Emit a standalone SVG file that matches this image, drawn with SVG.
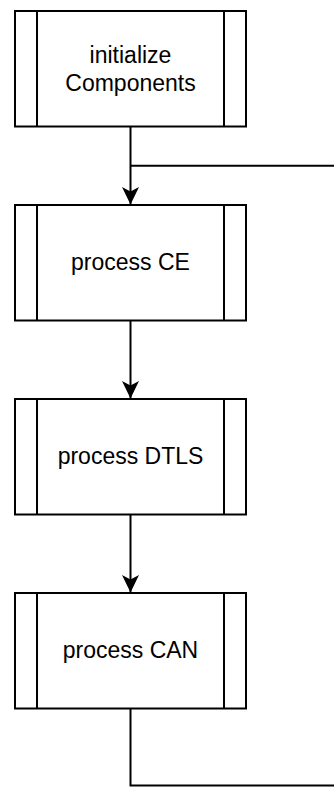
<svg xmlns="http://www.w3.org/2000/svg" width="334" height="787" viewBox="0 0 334 787">
  <style>
    .box { fill: #ffffff; stroke: #000000; stroke-width: 2; }
    .bar { stroke: #000000; stroke-width: 2; fill: none; }
    .label { font-family: "Liberation Sans", Arial, sans-serif; font-size: 23px; fill: #000000; text-anchor: middle; }
    .wire { fill: none; stroke: #000000; stroke-width: 2; }
  </style>
  <defs>
    <marker id="arrow" markerUnits="userSpaceOnUse" markerWidth="20" markerHeight="20" refX="17.5" refY="8.5" orient="auto">
      <path d="M17.5,8.5 L0,0 L4.5,8.5 L0,17 Z" fill="#000000"/>
    </marker>
  </defs>

  <rect width="334" height="787" fill="#ffffff"/>

  <!-- connectors -->
  <g id="connectors">
    <path class="wire" d="M130.5,126.5 V204.5" marker-end="url(#arrow)"/>
    <path class="wire" d="M130.5,165.7 H334"/>
    <path class="wire" d="M130.5,320.5 V398.5" marker-end="url(#arrow)"/>
    <path class="wire" d="M130.5,514.5 V592.5" marker-end="url(#arrow)"/>
    <path class="wire" d="M130.5,708.5 V785.5 H334"/>
  </g>

  <!-- predefined-process nodes -->
  <g id="initComponents">
    <rect class="box" x="15" y="11" width="231" height="115.5"/>
    <line class="bar" x1="37" y1="11" x2="37" y2="126.5"/>
    <line class="bar" x1="224" y1="11" x2="224" y2="126.5"/>
    <text class="label" x="130.5" y="63.3">initialize</text>
    <text class="label" x="130.5" y="90.7">Components</text>
  </g>

  <g id="processCE">
    <rect class="box" x="15" y="205" width="231" height="115.5"/>
    <line class="bar" x1="37" y1="205" x2="37" y2="320.5"/>
    <line class="bar" x1="224" y1="205" x2="224" y2="320.5"/>
    <text class="label" x="130.5" y="270.3">process CE</text>
  </g>

  <g id="processDTLS">
    <rect class="box" x="15" y="399" width="231" height="115.5"/>
    <line class="bar" x1="37" y1="399" x2="37" y2="514.5"/>
    <line class="bar" x1="224" y1="399" x2="224" y2="514.5"/>
    <text class="label" x="130.5" y="464.3">process DTLS</text>
  </g>

  <g id="processCAN">
    <rect class="box" x="15" y="593" width="231" height="115.5"/>
    <line class="bar" x1="37" y1="593" x2="37" y2="708.5"/>
    <line class="bar" x1="224" y1="593" x2="224" y2="708.5"/>
    <text class="label" x="130.5" y="658.3">process CAN</text>
  </g>
</svg>
